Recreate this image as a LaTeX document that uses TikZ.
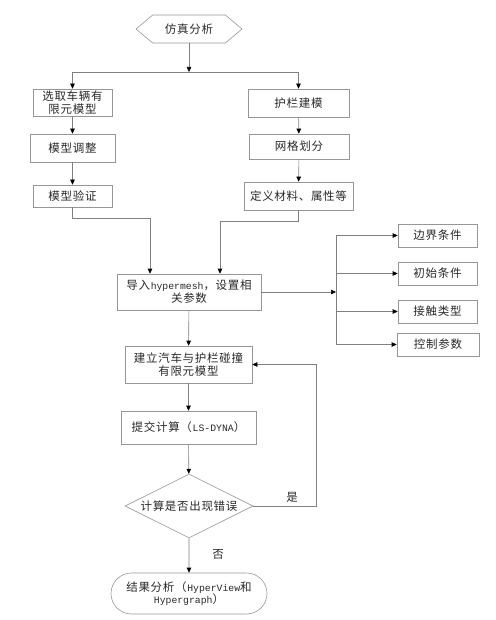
\documentclass[tikz,border=0pt]{standalone}
\usepackage{fontspec}
\setmainfont{Noto Sans CJK SC}[LetterSpace=6]
\setmonofont{Liberation Mono}[Scale=0.85]
\usetikzlibrary{arrows.meta, shapes.geometric, shapes.misc, shapes.symbols}
\definecolor{linegray}{RGB}{128,128,128}
\definecolor{boxgray}{RGB}{150,150,150}
\definecolor{textgray}{RGB}{40,40,40}

\begin{document}
\begin{tikzpicture}[x=1pt,y=1pt,yscale=-1,xscale=1,
  box/.style={draw=boxgray, line width=0.6pt, inner sep=0pt, align=center, text=textgray, font=\fontsize{11.5}{12.8}\selectfont},
  arr/.style={draw=linegray, line width=0.6pt, -{Triangle[length=5pt,width=4.5pt,color=black]}},
  line/.style={draw=linegray, line width=0.6pt},
  lbl/.style={text=textgray, font=\fontsize{11.5}{12.8}\selectfont}]
%set diagram left start at 0, and has size of 495 x 620
\useasboundingbox (0,0) rectangle (495,620);

% Start Node
\node[box, shape=signal, signal to=west and east, signal pointer angle=80, minimum width=106pt, minimum height=28pt] (start) at (189,29) {仿真分析};
% Text Node
\node[box, minimum width=79pt, minimum height=27pt] (car) at (72.5,102.5) {选取车辆有\\限元模型};
% Text Node
\node[box, minimum width=101pt, minimum height=28pt] (rail) at (298.5,103) {护栏建模};
% Text Node
\node[box, minimum width=85pt, minimum height=28pt] (adjust) at (72.5,148) {模型调整};
% Text Node
\node[box, minimum width=100pt, minimum height=25pt] (mesh) at (299,146.5) {网格划分};
% Text Node
\node[box, minimum width=79pt, minimum height=22pt] (verify) at (72.5,196) {模型验证};
% Text Node
\node[box, minimum width=109pt, minimum height=28pt] (material) at (298.5,196) {定义材料、属性等};
% Text Node
\node[box, minimum width=144pt, minimum height=36pt] (import) at (189,292) {导入\texttt{hypermesh}，设置相\\关参数};
% Text Node
\node[box, minimum width=79pt, minimum height=23pt] (bc) at (437.5,235.5) {边界条件};
% Text Node
\node[box, minimum width=79pt, minimum height=23pt] (ic) at (437.5,273.5) {初始条件};
% Text Node
\node[box, minimum width=79pt, minimum height=23pt] (contact) at (437.5,311.5) {接触类型};
% Text Node
\node[box, minimum width=82pt, minimum height=23pt] (ctrl) at (438,344.5) {控制参数};
% Text Node
\node[box, minimum width=127pt, minimum height=37pt] (model) at (188.5,364.5) {建立汽车与护栏碰撞\\有限元模型};
% Text Node
\node[box, minimum width=135pt, minimum height=33pt] (submit) at (188.5,427.5) {提交计算（\texttt{LS-DYNA}）};
% Decision Node
\node[box, shape=diamond, aspect=2, minimum width=128pt, minimum height=64pt] (check) at (189,506) {计算是否出现错误};
% End Node
\node[box, shape=rounded rectangle, minimum width=156pt, minimum height=41pt] (result) at (189,593.5) {结果分析（\texttt{HyperView}和\\\texttt{Hypergraph}）};

% Junctions
\coordinate (split) at (189,72);
\coordinate (hub) at (336,292);

% Connectors
\draw[arr] (start) -- (split);
\draw[arr] (split) -| (car.north);
\draw[arr] (split) -| (rail.north);
\draw[arr] (car) -- (adjust);
\draw[arr] (adjust) -- (verify);
\draw[arr] (rail) -- (mesh);
\draw[arr] (mesh) -- (material);
\draw[arr] (verify.south) -- ++(0,11) -| ([xshift=-39pt]import.north);
\draw[arr] (material.south) -- ++(0,11) -| ([xshift=31pt]import.north);
\draw[arr] (import.east) -- (hub);
\draw[arr] (hub) |- (bc.west);
\draw[arr] (hub) |- (ic.west);
\draw[arr] (hub) |- (contact.west);
\draw[arr] (hub) |- (ctrl.west);
\draw[arr] (import) -- (model);
\draw[arr] (model) -- (submit);
\draw[arr] (submit) -- (check);
\draw[arr] (check.east) -- ++(63,0) |- (model.east);
\draw[arr] (check) -- (result);

% Labels
\node[lbl] (yes) at (292,497) {是};
\node[lbl] (no) at (218,554) {否};

\end{tikzpicture}
\end{document}
